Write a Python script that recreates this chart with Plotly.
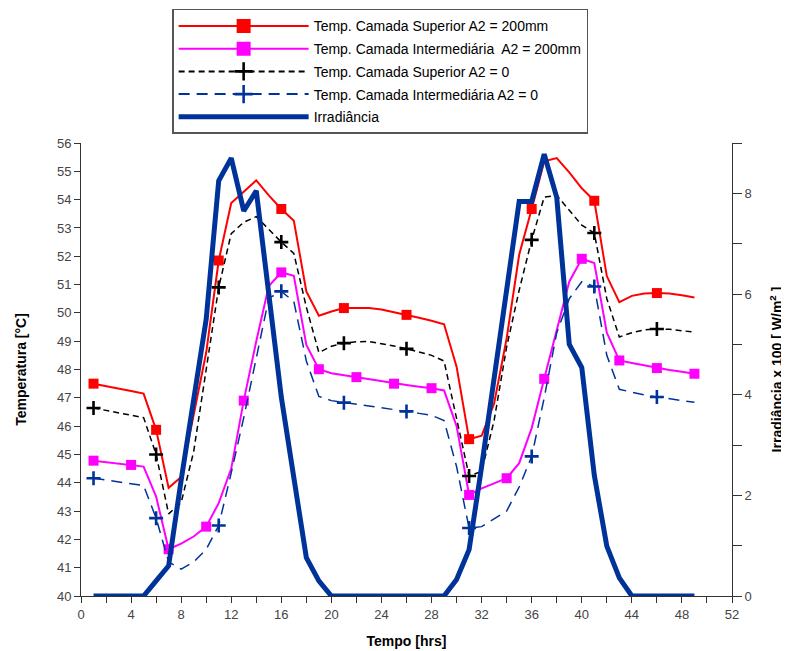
import plotly.graph_objects as go

hours = list(range(1, 50))

sup_200 = [47.50, 47.42, 47.33, 47.24, 47.15, 45.87, 43.82, 44.20, 46.40, 48.60,
           51.85, 53.88, 54.28, 54.68, 54.15, 53.67, 53.25, 50.76, 49.90, 50.05,
           50.17, 50.18, 50.17, 50.12, 50.03, 49.93, 49.83, 49.72, 49.60, 48.10,
           45.54, 45.66, 46.80, 49.10, 52.05, 53.67, 55.35, 55.47, 54.96, 54.40,
           53.96, 51.30, 50.38, 50.60, 50.68, 50.70, 50.68, 50.62, 50.54]

int_200 = [44.78, 44.73, 44.68, 44.63, 44.57, 43.51, 41.65, 41.85, 42.10, 42.45,
           43.28, 44.50, 46.90, 49.00, 50.95, 51.43, 51.31, 48.87, 48.01, 47.87,
           47.80, 47.73, 47.66, 47.58, 47.50, 47.45, 47.39, 47.34, 47.26, 46.00,
           43.57, 43.80, 43.98, 44.16, 44.69, 45.93, 47.67, 49.40, 51.10, 51.91,
           51.76, 49.30, 48.32, 48.23, 48.14, 48.05, 47.98, 47.92, 47.85]

sup_0 = [46.64, 46.56, 46.48, 46.40, 46.30, 45.00, 42.90, 43.30, 45.10, 48.00,
         50.90, 52.80, 53.20, 53.40, 52.95, 52.50, 52.10, 50.20, 48.60, 48.82,
         48.93, 48.98, 48.99, 48.92, 48.83, 48.73, 48.62, 48.50, 48.30, 46.30,
         44.24, 44.40, 46.20, 48.80, 50.80, 52.58, 54.09, 54.15, 53.64, 53.10,
         52.82, 50.50, 49.15, 49.30, 49.40, 49.43, 49.42, 49.38, 49.32]

int_0 = [44.16, 44.10, 44.04, 43.97, 43.90, 42.75, 41.20, 40.95, 41.20, 41.65,
         42.49, 44.35, 46.30, 48.40, 50.52, 50.76, 50.40, 48.30, 47.05, 46.90,
         46.83, 46.77, 46.71, 46.65, 46.59, 46.52, 46.45, 46.38, 46.20, 44.57,
         42.40, 42.45, 42.72, 43.00, 43.85, 44.93, 47.00, 49.30, 50.50, 51.10,
         50.93, 48.50, 47.30, 47.20, 47.10, 47.03, 46.97, 46.90, 46.84]

irrad = [0, 0, 0, 0, 0, 0.30, 0.60, 2.30, 3.95, 5.50,
         8.25, 8.70, 7.65, 8.05, 6.00, 3.95, 2.35, 0.76, 0.30, 0,
         0, 0, 0, 0, 0, 0, 0, 0, 0, 0.33,
         0.92, 2.57, 4.35, 6.10, 7.84, 7.84, 8.78, 7.92, 5.00, 4.54,
         2.40, 0.99, 0.36, 0, 0, 0, 0, 0, 0]

names = ["Temp. Camada Superior A2 = 200mm",
         "Temp. Camada Intermediária  A2 = 200mm",
         "Temp. Camada Superior A2 = 0",
         "Temp. Camada Intermediária A2 = 0",
         "Irradiância"]

x_ticks = list(range(0, 53, 4))
y2_ticks = [0, 2, 4, 6, 8]

RED = "#FF0000"
MAG = "#FF00FF"
BLK = "#000000"
BLU = "#003399"
FONT = "Arial, Liberation Sans, sans-serif"

series = [
    dict(y=sup_200, name=names[0], color=RED, dash="solid", width=2,
         symbol="square", msize=10, step=5),
    dict(y=int_200, name=names[1], color=MAG, dash="solid", width=2,
         symbol="square", msize=10, step=3),
    dict(y=sup_0, name=names[2], color=BLK, dash="6px,4px", width=1.5,
         symbol="cross-thin", msize=10, step=5),
    dict(y=int_0, name=names[3], color=BLU, dash="11px,7px", width=1.5,
         symbol="cross-thin", msize=10, step=5),
]

fig = go.Figure()

for i, s in enumerate(series):
    cross = s["symbol"] == "cross-thin"
    marker = dict(symbol=s["symbol"], size=s["msize"], color=s["color"],
                  line=dict(color=s["color"], width=2.6 if cross else 0))
    fig.add_trace(go.Scatter(x=hours, y=s["y"], mode="lines",
                             line=dict(color=s["color"], width=s["width"], dash=s["dash"]),
                             showlegend=False, hoverinfo="skip", legendgroup=f"g{i}"))
    fig.add_trace(go.Scatter(x=hours[::s["step"]], y=s["y"][::s["step"]], mode="markers",
                             marker=marker, showlegend=False, legendgroup=f"g{i}"))
    lmarker = dict(marker)
    lmarker["size"] = 14 if not cross else 13
    fig.add_trace(go.Scatter(x=[None], y=[None], mode="lines+markers", name=s["name"],
                             line=dict(color=s["color"], width=2, dash=s["dash"]),
                             marker=lmarker, legendgroup=f"g{i}"))

fig.add_trace(go.Scatter(x=hours, y=irrad, mode="lines", name=names[4],
                         line=dict(color=BLU, width=5), yaxis="y2", legendgroup="g4"))

axis_font = dict(family=FONT, size=13, color="#444444")
title_font = dict(family=FONT, size=14, color="#000000", weight="bold")

fig.update_layout(
    width=781, height=643,
    margin=dict(l=73, r=57, t=135, b=55, autoexpand=False),
    paper_bgcolor="white", plot_bgcolor="white",
    font=dict(family=FONT),
    xaxis=dict(range=[0, 52], tickvals=x_ticks, ticks="outside", ticklen=6,
               tickcolor="#333", showline=True, linecolor="#333", linewidth=1,
               showgrid=False, zeroline=False, tickfont=axis_font,
               minor=dict(dtick=2, tick0=0, ticks="outside", ticklen=6, tickcolor="#333"),
               title=dict(text="Tempo [hrs]", font=title_font, standoff=15)),
    yaxis=dict(range=[40, 56], dtick=1, tick0=40, ticks="outside", ticklen=6,
               tickcolor="#333", showline=True, linecolor="#333", linewidth=1,
               showgrid=False, zeroline=False, tickfont=axis_font,
               title=dict(text="Temperatura [°C]", font=title_font, standoff=27)),
    yaxis2=dict(range=[0, 9], overlaying="y", side="right", tickvals=y2_ticks,
                ticks="outside", ticklen=9, tickcolor="#333", showline=True,
                linecolor="#333", linewidth=1, showgrid=False, zeroline=False,
                tickfont=axis_font,
                minor=dict(dtick=1, tick0=0, ticks="outside", ticklen=9, tickcolor="#333"),
                title=dict(text="Irradiância x 100 [ W/m<sup>2</sup> ]", font=title_font,
                           standoff=21)),
    legend=dict(x=0.14, y=1.296, xanchor="left", yanchor="top",
                bgcolor="white", bordercolor="#555555", borderwidth=1.5,
                font=dict(family=FONT, size=14, color="#000000"),
                itemwidth=130, traceorder="grouped", tracegroupgap=1.5),
)

fig.write_html("out.html")
